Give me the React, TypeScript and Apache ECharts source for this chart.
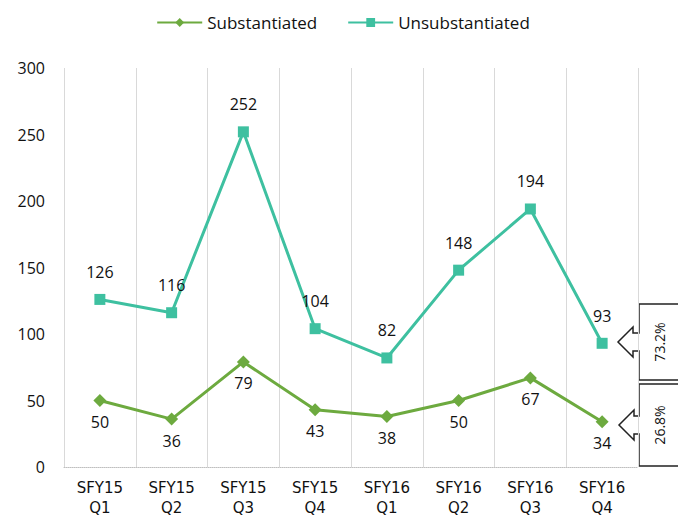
import React, { useEffect, useRef } from "react";
import * as echarts from "echarts";

const categories = [
  "SFY15\nQ1", "SFY15\nQ2", "SFY15\nQ3", "SFY15\nQ4",
  "SFY16\nQ1", "SFY16\nQ2", "SFY16\nQ3", "SFY16\nQ4",
];
const substantiated = [50, 36, 79, 43, 38, 50, 67, 34];
const unsubstantiated = [126, 116, 252, 104, 82, 148, 194, 93];
const calloutUnsub = "73.2%";
const calloutSub = "26.8%";

const GREEN = "#6DAA3F";
const TEAL = "#3EC0A0";
const FONT = "'Open Sans', 'Noto Sans', sans-serif";

export default function App() {
  const ref = useRef<HTMLDivElement>(null);
  useEffect(() => {
    if (!ref.current) return;
    const chart = echarts.init(ref.current, null, { renderer: "svg" });
    chart.setOption({
      animation: false,
      backgroundColor: "#ffffff",
      textStyle: { fontFamily: FONT },
      legend: {
        top: 9,
        left: "center",
        itemWidth: 45,
        itemHeight: 11,
        itemGap: 30,
        textStyle: { fontSize: 17, color: "#111", fontFamily: FONT },
        data: ["Substantiated", "Unsubstantiated"],
      },
      grid: { left: 64, right: 48, top: 68, bottom: 58 },
      xAxis: {
        type: "category",
        data: categories,
        boundaryGap: true,
        axisLine: { show: true, lineStyle: { color: "#bfbfbf", type: "dotted" } },
        axisTick: { show: false },
        splitLine: { show: true, lineStyle: { color: "#d9d9d9", width: 1 } },
        axisLabel: {
          color: "#111",
          fontSize: 15,
          lineHeight: 20,
          margin: 11,
          fontFamily: "'DejaVu Sans', sans-serif",
        },
      },
      yAxis: {
        type: "value",
        min: 0,
        max: 300,
        interval: 50,
        axisLine: { show: false },
        axisTick: { show: false },
        splitLine: { show: false },
        axisLabel: { color: "#111", fontSize: 16, margin: 19, fontFamily: FONT },
      },
      series: [
        {
          name: "Substantiated",
          type: "line",
          data: substantiated,
          color: GREEN,
          symbol: "diamond",
          symbolSize: 13,
          lineStyle: { width: 3, color: GREEN },
          itemStyle: { color: GREEN },
          label: {
            show: true,
            position: "bottom",
            distance: 7,
            fontSize: 16,
            color: "#111",
            fontFamily: FONT,
          },
        },
        {
          name: "Unsubstantiated",
          type: "line",
          data: unsubstantiated,
          color: TEAL,
          symbol: "rect",
          symbolSize: 11,
          lineStyle: { width: 3, color: TEAL },
          itemStyle: { color: TEAL },
          label: {
            show: true,
            position: "top",
            distance: 14,
            fontSize: 16,
            color: "#111",
            fontFamily: FONT,
          },
        },
      ],
      graphic: [
        {
          type: "polygon",
          shape: {
            points: [
              [639, 304], [679, 304], [679, 380], [639, 380], [639, 351],
              [633, 351], [633, 357], [618, 342], [633, 327], [633, 333], [639, 333],
            ],
          },
          style: { fill: "#fff", stroke: "#222", lineWidth: 1.5 },
        },
        {
          type: "text",
          x: 659,
          y: 342,
          rotation: Math.PI / 2,
          style: {
            text: calloutUnsub,
            fontSize: 14,
            fill: "#111",
            fontFamily: FONT,
            align: "center",
            verticalAlign: "middle",
          },
        },
        {
          type: "polygon",
          shape: {
            points: [
              [639, 384], [679, 384], [679, 466], [639, 466], [639, 434],
              [634, 434], [634, 440], [619, 425], [634, 410], [634, 416], [639, 416],
            ],
          },
          style: { fill: "#fff", stroke: "#222", lineWidth: 1.5 },
        },
        {
          type: "text",
          x: 659,
          y: 425,
          rotation: Math.PI / 2,
          style: {
            text: calloutSub,
            fontSize: 14,
            fill: "#111",
            fontFamily: FONT,
            align: "center",
            verticalAlign: "middle",
          },
        },
      ],
    });
    return () => chart.dispose();
  }, []);
  return <div ref={ref} style={{ width: 686, height: 525, margin: -8 }} />;
}
